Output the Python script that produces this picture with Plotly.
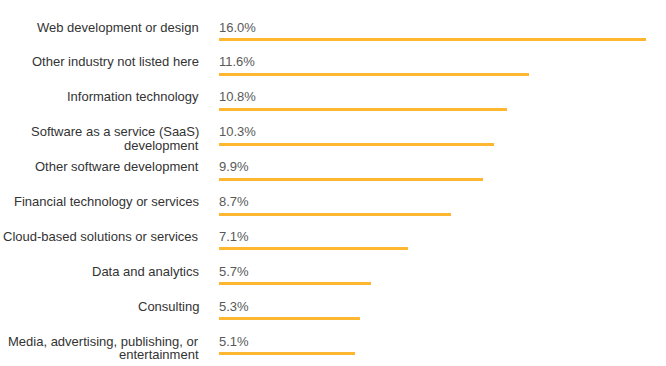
import plotly.graph_objects as go

categories = [
    "Web development or design",
    "Other industry not listed here",
    "Information technology",
    "Software as a service (SaaS)<br>development",
    "Other software development",
    "Financial technology or services",
    "Cloud-based solutions or services",
    "Data and analytics",
    "Consulting",
    "Media, advertising, publishing, or<br>entertainment",
]
values = [16.0, 11.6, 10.8, 10.3, 9.9, 8.7, 7.1, 5.7, 5.3, 5.1]
value_labels = [f"{v:.1f}%" for v in values]

BAR_COLOR = "#FFB630"
FONT = "Liberation Sans, Arial, sans-serif"

ys = list(range(len(categories)))

fig = go.Figure()
fig.add_trace(go.Bar(
    x=values, y=ys, orientation="h",
    width=0.086, marker=dict(color=BAR_COLOR, line=dict(width=0)),
    hoverinfo="skip",
))

annotations = []
for i, (cat, lab) in enumerate(zip(categories, value_labels)):
    annotations.append(dict(
        x=0, y=i, xref="x", yref="y", text=lab, showarrow=False,
        xanchor="left", yanchor="middle", xshift=-2, yshift=12.5,
        font=dict(family=FONT, size=13, color="#595959"),
    ))
    for j, line in enumerate(cat.split("<br>")):
        annotations.append(dict(
            x=0, y=i, xref="x", yref="y", text=line, showarrow=False,
            xanchor="right", yanchor="middle", align="right",
            xshift=-18, yshift=12.5 - j * 13.3,
            font=dict(family=FONT, size=13, color="#333333"),
        ))

fig.update_layout(
    width=666, height=366,
    margin=dict(l=219, r=20, t=0, b=0),
    plot_bgcolor="white", paper_bgcolor="white",
    showlegend=False,
    annotations=annotations,
    xaxis=dict(range=[0, 16], visible=False, fixedrange=True),
    yaxis=dict(range=[9.355, -1.132], visible=False, fixedrange=True),
    bargap=0,
)

fig.write_html(
    "out.html",
    config={"displayModeBar": False},
    post_script="document.body.style.margin='0';document.body.style.overflow='hidden';",
)
